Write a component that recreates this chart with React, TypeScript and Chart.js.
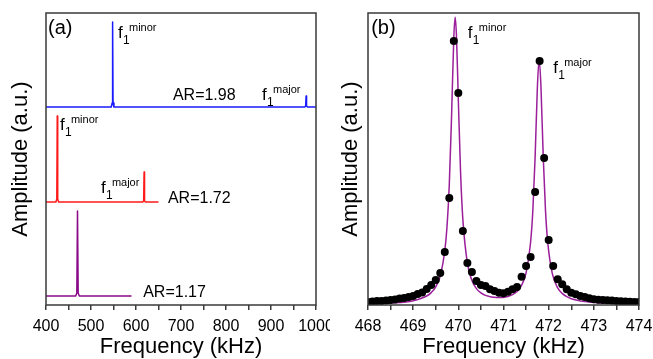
import React, { useEffect, useRef } from "react";
import { Chart, registerables } from "chart.js";

Chart.register(...registerables);

// ---------- Panel (a) data ----------
const aXTickStep = 50;
const aXMin = 400;
const aXMax = 1000;

const blueFreq = [400, 545, 547, 548, 549, 551, 975, 977, 978, 979, 981, 1000];
const blueAmp = [198, 198, 202, 283, 202, 198, 198, 199, 209, 199, 198, 198];

const redFreq = [400, 422, 424, 425, 426, 428, 615, 617, 618, 619, 621, 650];
const redAmp = [103, 103, 106, 189, 106, 103, 103, 104, 133, 104, 103, 103];

const purpleFreq = [400, 466, 468.5, 470, 471.5, 474, 590];
const purpleAmp = [9, 9, 12, 94, 12, 9, 9];

// ---------- Panel (b) data ----------
const bXTickStep = 0.5;
const bXMin = 468;
const bXMax = 474;

const dotFreq = [
  468.0, 468.1, 468.2, 468.3, 468.4, 468.5, 468.6, 468.7, 468.8, 468.9,
  469.0, 469.1, 469.2, 469.3, 469.4, 469.5, 469.6, 469.7, 469.8, 469.9,
  470.0, 470.1, 470.2, 470.3, 470.4, 470.5, 470.6, 470.7, 470.8, 470.9,
  471.0, 471.1, 471.2, 471.3, 471.4, 471.5, 471.6, 471.7, 471.8, 471.9,
  472.0, 472.1, 472.2, 472.3, 472.4, 472.5, 472.6, 472.7, 472.8, 472.9,
  473.0, 473.1, 473.2, 473.3, 473.4, 473.5, 473.6, 473.7, 473.8, 473.9,
  474.0,
];
const dotAmp = [
  3, 3.5, 4, 4, 4.5, 5, 5.5, 6.5, 7, 8,
  9, 11, 12.5, 16, 20, 25, 32, 53, 107, 264,
  212, 74, 42, 33, 24, 20, 19, 15.7, 14, 12.3,
  11.7, 13.3, 15.7, 18, 28.3, 39, 48, 113, 244, 147,
  65, 39, 25.7, 20.7, 15.7, 12.3, 10.7, 9, 8, 6.7,
  5.7, 5.3, 5, 4.7, 4.4, 4, 3.7, 3.5, 3.3, 3,
  3,
];

const fitFreq = [
  468.0, 468.5, 469.0, 469.3, 469.4, 469.5, 469.6, 469.7, 469.75, 469.8,
  469.85, 469.9, 469.93, 469.96, 470.0, 470.05, 470.1, 470.2, 470.3, 470.4,
  470.5, 470.6, 470.85, 471.1, 471.2, 471.3, 471.4, 471.5, 471.6, 471.65,
  471.7, 471.75, 471.79, 471.83, 471.88, 471.93, 471.98, 472.08, 472.2, 472.3,
  472.4, 472.5, 472.8, 473.2, 473.6, 474.0,
];
const fitAmp = [
  1.1, 2.0, 4.3, 9.0, 12.4, 18.2, 29.3, 54, 78.7, 120.4,
  188.4, 267.8, 287.8, 267.8, 205.1, 131.9, 85.6, 42.1, 24.7, 16.4,
  12.1, 9.6, 7.4, 8.6, 10.4, 13.6, 19.7, 32.2, 62.8, 94.7,
  147.9, 217.5, 246, 217.4, 147.8, 94.4, 62.4, 31.6, 17.1, 11.6,
  8.3, 6.3, 3.4, 1.9, 1.2, 0.9,
];

const yMax = 292;

// ---------- annotations (data-space anchors) ----------
type Ann = { kind: "text" | "f1"; x: number; y: number; text: string; size?: number };

const annA: Ann[] = [
  { kind: "text", x: 404.4, y: 271, text: "(a)", size: 20 },
  { kind: "f1", x: 560, y: 267, text: "minor" },
  { kind: "text", x: 682, y: 205, text: "AR=1.98", size: 16 },
  { kind: "f1", x: 880, y: 205, text: "major" },
  { kind: "f1", x: 431, y: 175, text: "minor" },
  { kind: "f1", x: 522, y: 112, text: "major" },
  { kind: "text", x: 671, y: 102, text: "AR=1.72", size: 16 },
  { kind: "text", x: 616, y: 8, text: "AR=1.17", size: 16 },
];

const annB: Ann[] = [
  { kind: "text", x: 468.07, y: 271, text: "(b)", size: 20 },
  { kind: "f1", x: 470.21, y: 267, text: "minor" },
  { kind: "f1", x: 472.1, y: 232, text: "major" },
];

const FONT = '"Liberation Sans", Arial, sans-serif';
const FRAME = "#3a3a3a";

function toXY(xs: number[], ys: number[]) {
  return xs.map((x, i) => ({ x, y: ys[i] }));
}

function makeOverlay(anns: Ann[]) {
  return {
    id: "overlay",
    afterDatasetsDraw(chart: any) {
      const { ctx, chartArea } = chart;
      const xs = chart.scales.x;
      const ys = chart.scales.y;
      ctx.save();
      ctx.strokeStyle = FRAME;
      ctx.lineWidth = 1.5;
      ctx.strokeRect(
        chartArea.left,
        chartArea.top,
        chartArea.right - chartArea.left,
        chartArea.bottom - chartArea.top
      );
      ctx.fillStyle = "#000";
      ctx.textBaseline = "alphabetic";
      ctx.textAlign = "left";
      for (const a of anns) {
        const px = xs.getPixelForValue(a.x);
        const py = ys.getPixelForValue(a.y);
        if (a.kind === "text") {
          ctx.font = `${a.size}px ${FONT}`;
          ctx.fillText(a.text, px, py);
        } else {
          ctx.font = `17px ${FONT}`;
          ctx.fillText("f", px, py);
          ctx.font = `12px ${FONT}`;
          ctx.fillText("1", px + 5, py + 6);
          ctx.font = `11px ${FONT}`;
          ctx.fillText(a.text, px + 11, py - 7);
        }
      }
      ctx.restore();
    },
  };
}

function xAxis(min: number, max: number, step: number, major: number) {
  return {
    type: "linear" as const,
    min,
    max,
    afterFit: (s: any) => {
      s.height = 54;
      s.paddingLeft = 0;
      s.paddingRight = 0;
    },
    ticks: {
      stepSize: step,
      autoSkip: false,
      maxRotation: 0,
      color: "#000",
      padding: 7,
      font: { family: FONT, size: 16 },
      callback: (v: any) => {
        const n = Number(v);
        return Math.abs(n / major - Math.round(n / major)) < 1e-6 ? String(Math.round(n)) : "";
      },
    },
    grid: {
      display: true,
      drawOnChartArea: false,
      drawTicks: true,
      tickLength: 5,
      color: FRAME,
      lineWidth: 1.5,
    },
    border: { display: false },
    title: {
      display: true,
      text: "Frequency (kHz)",
      color: "#000",
      font: { family: FONT, size: 22, lineHeight: 1 },
      padding: { top: 0, bottom: 1 },
    },
  };
}

function yAxis(width: number) {
  return {
    type: "linear" as const,
    min: 0,
    max: yMax,
    afterFit: (s: any) => {
      s.width = width;
    },
    ticks: { display: false },
    grid: { display: false, drawTicks: false },
    border: { display: false },
    title: {
      display: true,
      text: "Amplitude (a.u.)",
      color: "#000",
      font: { family: FONT, size: 22, lineHeight: 1 },
      padding: { top: 10, bottom: 0 },
    },
  };
}

function PanelA() {
  const ref = useRef<HTMLCanvasElement>(null);
  useEffect(() => {
    const line = (xs: number[], ys: number[], color: string) => ({
      data: toXY(xs, ys),
      borderColor: color,
      backgroundColor: color,
      borderWidth: 1.5,
      borderJoinStyle: "round",
      pointRadius: 0,
      tension: 0,
    });
    const chart = new Chart(ref.current as HTMLCanvasElement, {
      type: "line",
      data: {
        datasets: [
          line(blueFreq, blueAmp, "#1a1aff"),
          line(redFreq, redAmp, "#ff1a1a"),
          line(purpleFreq, purpleAmp, "#8a0a8a"),
        ],
      },
      options: {
        responsive: false,
        animation: false,
        devicePixelRatio: 1,
        layout: { padding: { top: 13, right: 14, left: 0, bottom: 0 }, autoPadding: false },
        plugins: { legend: { display: false }, tooltip: { enabled: false } },
        scales: {
          x: xAxis(aXMin, aXMax, aXTickStep, 100),
          y: yAxis(46),
        },
      } as any,
      plugins: [makeOverlay(annA)],
    });
    return () => chart.destroy();
  }, []);
  return <canvas ref={ref} width={330} height={359} style={{ display: "block", width: 330, height: 359 }} />;
}

function PanelB() {
  const ref = useRef<HTMLCanvasElement>(null);
  useEffect(() => {
    const chart = new Chart(ref.current as HTMLCanvasElement, {
      type: "line",
      data: {
        datasets: [
          {
            data: toXY(dotFreq, dotAmp),
            showLine: false,
            pointRadius: 4,
            pointBackgroundColor: "#000",
            pointBorderColor: "#000",
            pointBorderWidth: 0,
            borderColor: "#000",
            order: 0,
          },
          {
            data: toXY(fitFreq, fitAmp),
            borderColor: "#9b1f9b",
            borderWidth: 1.5,
            borderJoinStyle: "round",
            pointRadius: 0,
            cubicInterpolationMode: "monotone",
            order: 1,
          },
        ],
      },
      options: {
        responsive: false,
        animation: false,
        devicePixelRatio: 1,
        layout: { padding: { top: 13, right: 14, left: 0, bottom: 0 }, autoPadding: false },
        plugins: { legend: { display: false }, tooltip: { enabled: false } },
        scales: {
          x: xAxis(bXMin, bXMax, bXTickStep, 1),
          y: yAxis(38),
        },
      } as any,
      plugins: [makeOverlay(annB)],
    });
    return () => chart.destroy();
  }, []);
  return <canvas ref={ref} width={323} height={359} style={{ display: "block", width: 323, height: 359 }} />;
}

export default function App() {
  return (
    <div
      style={{
        position: "fixed",
        left: 0,
        top: 0,
        width: 653,
        height: 359,
        background: "#fff",
        display: "flex",
        flexDirection: "row",
      }}
    >
      <PanelA />
      <PanelB />
    </div>
  );
}
